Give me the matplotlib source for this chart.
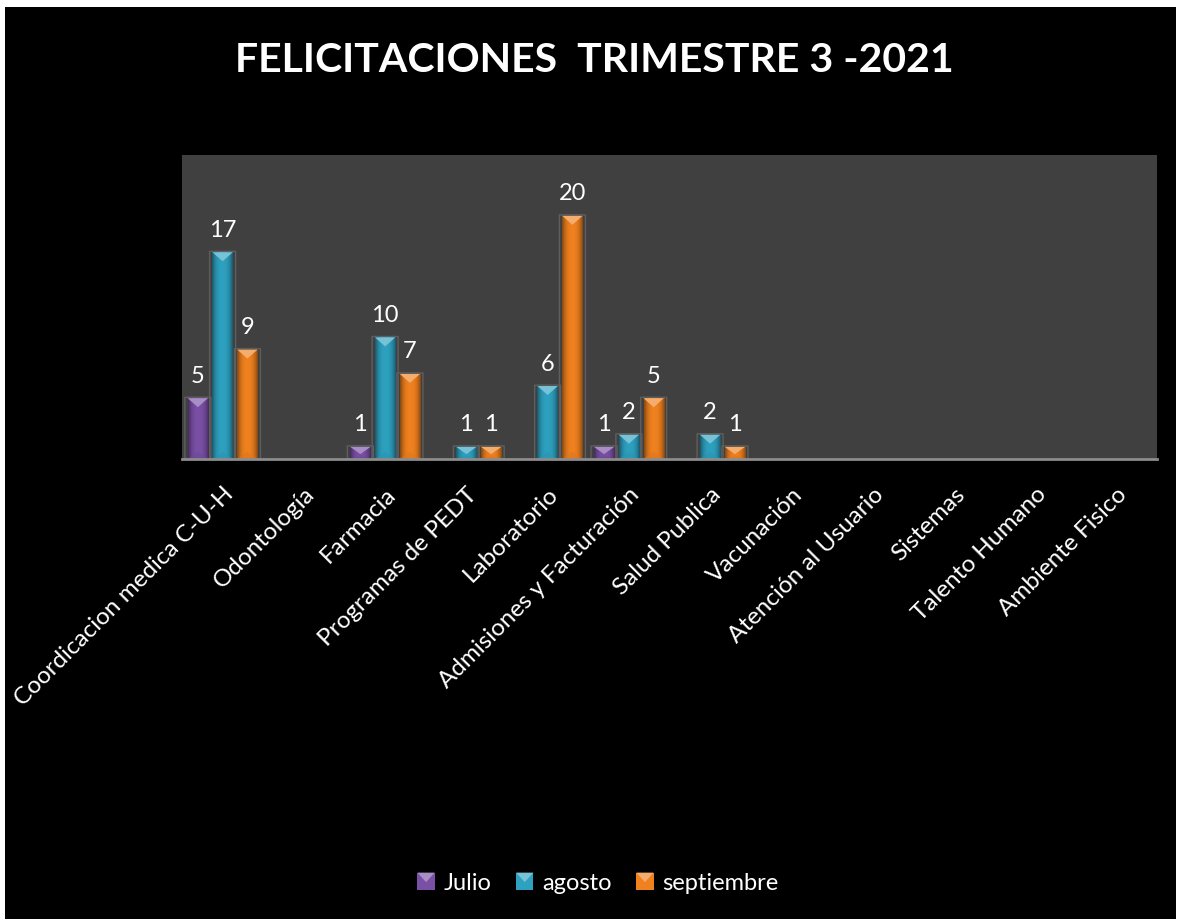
import numpy as np
import matplotlib
matplotlib.use("Agg")
import matplotlib.pyplot as plt
from matplotlib.patches import Rectangle, Polygon, FancyBboxPatch, Patch
from matplotlib.legend_handler import HandlerPatch
from matplotlib.colors import to_rgb

plt.rcParams['font.family'] = ['Lato', 'DejaVu Sans']

categories = [
    "Coordicacion medica C-U-H", "Odontología", "Farmacia", "Programas de PEDT",
    "Laboratorio", "Admisiones y Facturación", "Salud Publica", "Vacunación",
    "Atención al Usuario", "Sistemas", "Talento Humano", "Ambiente Fisico",
]
julio = [5, 0, 1, 0, 0, 1, 0, 0, 0, 0, 0, 0]
agosto = [17, 0, 10, 1, 6, 2, 2, 0, 0, 0, 0, 0]
septiembre = [9, 0, 7, 1, 20, 5, 1, 0, 0, 0, 0, 0]
series_names = ["Julio", "agosto", "septiembre"]
series_colors = ["#7a4fa6", "#2ea1c0", "#f0811f"]
title = "FELICITACIONES  TRIMESTRE 3 -2021"

W, H, DPI = 1177, 920, 100
fig = plt.figure(figsize=(W / DPI, H / DPI), dpi=DPI)
fig.patch.set_facecolor("white")
# black chart canvas inside a thin white frame
fig.add_artist(Rectangle((5 / W, 0), (W - 6) / W, (H - 8) / H,
                         transform=fig.transFigure, facecolor="black",
                         edgecolor="none", zorder=0))

ax = fig.add_axes([182 / W, 1 - 460 / H, (1157 - 182) / W, (460 - 156) / H])
ax.set_facecolor("#404040")
ax.set_zorder(1)

x = np.arange(len(categories))
width = 0.25
offset = 0.305
ymax = 25
ax.set_xlim(-0.5, len(categories) - 0.5)
ax.set_ylim(0, ymax)


def shade(c, f):
    r = np.array(to_rgb(c))
    if f >= 0:
        return tuple(r + (1 - r) * f)
    return tuple(r * (1 + f))


px_per_unit = ax.bbox.height / ymax
cap_h = 9 / px_per_unit
units_ratio = (ax.bbox.width / len(categories)) / px_per_unit

for k, (vals, col) in enumerate(zip([julio, agosto, septiembre], series_colors)):
    xs = x + (k - 1) * offset
    bars = ax.bar(xs, vals, width=width, color=col, edgecolor="none", zorder=3)
    for b, v in zip(bars, vals):
        if v <= 0:
            continue
        x0, w, h = b.get_x(), b.get_width(), b.get_height()
        # soft outline halo around the column
        halo = FancyBboxPatch((x0 - 0.035, 0), w + 0.07, h + 0.08,
                              boxstyle="round,pad=0,rounding_size=0.09",
                              mutation_aspect=1 / units_ratio,
                              facecolor="none", edgecolor="#5e5e5e", lw=1.0, zorder=2)
        ax.add_patch(halo)
        # horizontal shading across the column face
        grad = np.linspace(0, 1, 64)
        prof = 1 - 0.45 * (np.abs(grad - 0.5) * 2) ** 2.5
        base = np.array(to_rgb(col))
        img = (base[None, None, :] * prof[None, :, None]).clip(0, 1)
        im = ax.imshow(img, extent=(x0, x0 + w, 0, h), aspect="auto",
                       zorder=3.5, interpolation="bilinear")
        im.set_clip_path(b)
        # pyramid cap on top
        ax.add_patch(Polygon([(x0, h), (x0 + w, h), (x0 + w / 2, h - min(cap_h, h * 0.6))],
                             closed=True, facecolor=shade(col, 0.35),
                             edgecolor="none", zorder=4))
        ax.add_patch(Polygon([(x0, 0), (x0 + w, 0), (x0 + w / 2, min(cap_h, h * 0.4) * 0.8)],
                             closed=True, facecolor=shade(col, -0.08),
                             edgecolor="none", zorder=4, alpha=0.6))
        ax.annotate(f"{v:g}", (x0 + w / 2, h), xytext=(0, 9),
                    textcoords="offset points", ha="center", va="bottom",
                    color="white", fontsize=17, zorder=5)

ax.set_xticks(x)
ax.set_xticklabels(categories, rotation=45, ha="right", rotation_mode="anchor",
                   color="white", fontsize=17.5)
ax.tick_params(axis="x", length=0, pad=17)
ax.set_yticks([])
for s in ["top", "right", "left"]:
    ax.spines[s].set_visible(False)
ax.spines["bottom"].set_color("#8c8c8c")
ax.spines["bottom"].set_linewidth(2)
ax.spines["bottom"].set_zorder(6)

fig.text(594 / W, 1 - 61 / H, title, ha="center", va="center",
         color="white", fontsize=29.5, fontweight="bold")


class CapHandler(HandlerPatch):
    def create_artists(self, legend, orig_handle, xdescent, ydescent,
                       width, height, fontsize, trans):
        col = orig_handle.get_facecolor()
        s = min(width, height)
        x0 = -xdescent
        y0 = -ydescent + (height - s) / 2
        sq = Rectangle((x0, y0), s, s, facecolor=col, edgecolor="none", transform=trans)
        tri = Polygon([(x0, y0 + s), (x0 + s, y0 + s), (x0 + s / 2, y0 + s * 0.45)],
                      closed=True, facecolor=shade(col[:3], 0.35), edgecolor="none",
                      transform=trans)
        return [sq, tri]


handles = [Patch(facecolor=c, label=n) for c, n in zip(series_colors, series_names)]
leg = fig.legend(handles=handles, loc="center", bbox_to_anchor=(598 / W, 1 - 884 / H),
                 ncol=3, frameon=False, fontsize=17, labelcolor="white",
                 handlelength=0.75, handleheight=0.75, handletextpad=0.35,
                 columnspacing=1.05, handler_map={Patch: CapHandler()})

fig.savefig("out.png", dpi=DPI, facecolor=fig.get_facecolor())
